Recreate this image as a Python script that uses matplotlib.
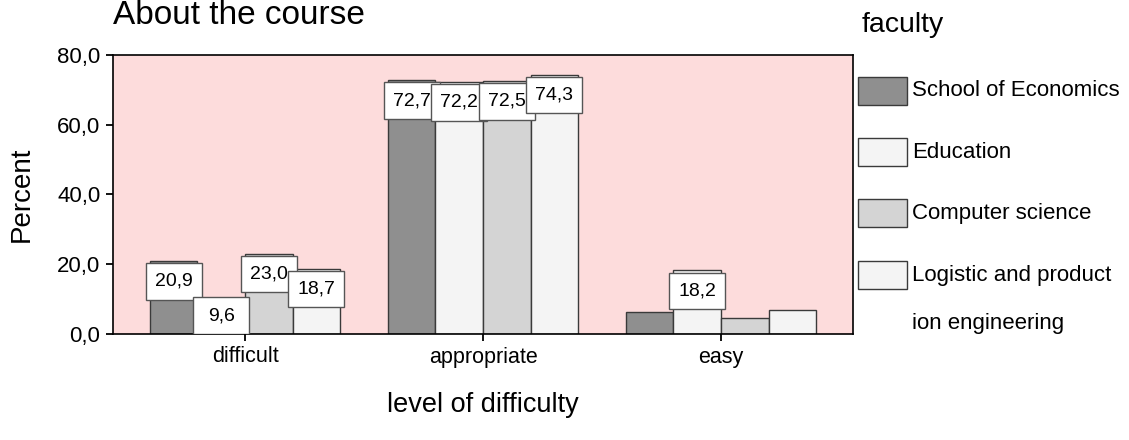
import matplotlib
matplotlib.use("Agg")
import matplotlib.pyplot as plt
from matplotlib.patches import Rectangle
import numpy as np

plt.rcParams['font.family'] = ['Liberation Sans', 'DejaVu Sans']

categories = ["difficult", "appropriate", "easy"]
series_names = ["School of Economics", "Education", "Computer science",
                "Logistic and product\nion engineering"]
values = {
    "School of Economics": [20.9, 72.7, 6.4],
    "Education": [9.6, 72.2, 18.2],
    "Computer science": [23.0, 72.5, 4.5],
    "Logistic and product\nion engineering": [18.7, 74.3, 7.0],
}
colors = ["#8f8f8f", "#f4f4f4", "#d4d4d4", "#f4f4f4"]
yticks = [0, 20, 40, 60, 80]
ytick_labels = ["0,0", "20,0", "40,0", "60,0", "80,0"]

W, H = 1129, 440
fig = plt.figure(figsize=(W / 100, H / 100), dpi=100)
fig.patch.set_facecolor("white")

def fx(x):
    return x / W

def fy(y):
    return 1 - y / H

ax = fig.add_axes([fx(113), fy(334), fx(853) - fx(113), fy(54.7) - fy(334)])
ax.set_facecolor("#fddcdc")

bw = 0.2
x = np.arange(len(categories))
box_w = 0.235
box_h = 10.5
for i, name in enumerate(series_names):
    offs = (i - 1.5) * bw
    vals = values[name]
    ax.bar(x + offs, vals, width=bw, color=colors[i], edgecolor="#3a3a3a",
           linewidth=1.0, zorder=2)
    for xi, v in zip(x, vals):
        if v < 8:
            continue
        top = max(v - 0.6, box_h)
        bottom = top - box_h
        ax.add_patch(Rectangle((xi + offs - box_w / 2, bottom), box_w, box_h,
                               facecolor="white", edgecolor="#555555",
                               linewidth=1.0, zorder=3))
        ax.text(xi + offs, bottom + box_h / 2, f"{v:.1f}".replace(".", ","),
                ha="center", va="center", fontsize=14, zorder=4)

ax.set_xlim(-0.555, 2.555)
ax.set_ylim(0, 80)
ax.set_yticks(yticks)
ax.set_yticklabels(ytick_labels, fontsize=16)
ax.set_xticks(x)
ax.set_xticklabels(categories, fontsize=15.5)
ax.tick_params(axis="both", direction="out", length=5, width=1.3, pad=4)
for s in ax.spines.values():
    s.set_linewidth(1.2)
    s.set_color("black")

# Titles
fig.text(fx(113), fy(24), "About the course", fontsize=24, ha="left",
         va="baseline")
fig.text(fx(22), fy(194), "Percent", fontsize=20, rotation=90,
         ha="center", va="center")
fig.text(fx(483), fy(405), "level of difficulty", fontsize=19.5,
         ha="center", va="center")

# Legend
fig.text(fx(862), fy(32), "faculty", fontsize=20.5, ha="left",
         va="baseline")
centers = [91, 152, 213, 275]
for i, name in enumerate(series_names):
    cy = centers[i]
    fig.add_artist(Rectangle((fx(858), fy(cy + 14)), fx(907) - fx(858),
                             fy(cy - 14) - fy(cy + 14),
                             transform=fig.transFigure,
                             facecolor=colors[i], edgecolor="#3a3a3a",
                             linewidth=1.0))
    lines = name.split("\n")
    for j, line in enumerate(lines):
        fig.text(fx(912), fy(cy + j * 48), line, fontsize=16, ha="left",
                 va="center")

fig.savefig("out.png", dpi=100)
